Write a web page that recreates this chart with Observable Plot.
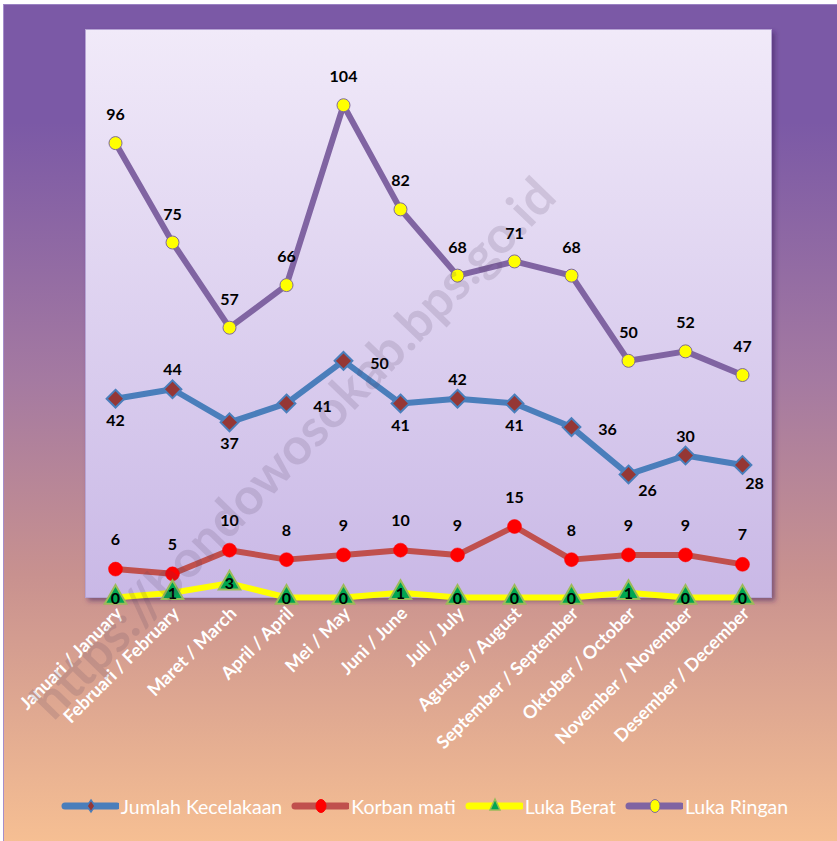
<!DOCTYPE html>
<html>
<head>
<meta charset="utf-8">
<script src="https://cdn.jsdelivr.net/npm/d3@7"></script>
<script src="https://cdn.jsdelivr.net/npm/@observablehq/plot@0.6"></script>
<style>
  html, body { margin: 0; padding: 0; background: #ffffff; }
  #wrap {
    position: absolute; left: 3px; top: 4px; width: 834px; height: 837px;
    background: linear-gradient(to bottom, #7b59a6 0%, #7b59a6 14%, #a57aa1 45%, #c8918f 68%, #f6bf93 100%);
    border-left: 1px solid #a58fcb; border-top: 1px solid #9a82c2;
    overflow: hidden;
  }
  #chart { position: absolute; left: -4px; top: -5px; }
  #legend {
    position: absolute; left: 2px; top: 781px; width: 837px; height: 40px;
    display: flex; justify-content: center; align-items: center; gap: 9px;
    font-family: Lato, "Open Sans", sans-serif; font-size: 19.5px; color: #ffffff;
  }
  .item { display: flex; align-items: center; gap: 2px; }
  #watermark {
    position: absolute; left: 288px; top: 442px; transform: translate(-50%, -50%) rotate(-46deg);
    font-family: Lato, sans-serif; font-weight: bold; font-size: 51px; white-space: nowrap;
    color: rgba(80, 64, 96, 0.16); pointer-events: none;
  }
</style>
</head>
<body>
<div id="wrap">
  <div id="chart"></div>
  <div id="watermark">https://bondowosokab.bps.go.id</div>
  <div id="legend"></div>
</div>
<script>
const months = ["Januari / January", "Februari / February", "Maret / March", "April / April", "Mei / May", "Juni / June", "Juli / July", "Agustus / August", "September / September", "Oktober / October", "November / November", "Desember / December"];
const seriesNames = ["Jumlah Kecelakaan", "Korban mati", "Luka Berat", "Luka Ringan"];
const jumlahKecelakaan = [42, 44, 37, 41, 50, 41, 42, 41, 36, 26, 30, 28];
const korbanMati = [6, 5, 10, 8, 9, 10, 9, 15, 8, 9, 9, 7];
const lukaBerat = [0, 1, 3, 0, 0, 1, 0, 0, 0, 1, 0, 0];
const lukaRingan = [96, 75, 57, 66, 104, 82, 68, 71, 68, 50, 52, 47];

const rows = (vals) => months.map((m, i) => ({month: m, value: vals[i], i}));
const dJ = rows(jumlahKecelakaan), dK = rows(korbanMati), dB = rows(lukaBerat), dR = rows(lukaRingan);

// label placement for Jumlah Kecelakaan (style only)
const place = ["below", "above", "below", "right", "right", "below", "above", "below", "right", "belowRight", "above", "belowRight2"];
const placeOpts = {
  below: {dy: 22}, above: {dy: -19}, right: {dx: 36, dy: 3},
  belowRight: {dx: 19, dy: 16}, belowRight2: {dx: 12, dy: 19}
};

const C = {
  jumlah: "#4a7ebb", korban: "#c0504d", berat: "#ffff00", ringan: "#8064a2"
};
const labelFont = {fontFamily: "Lato, sans-serif", fontWeight: "bold", fontSize: 16, fill: "#000"};

const defs = () => {
  const svgNS = "http://www.w3.org/2000/svg";
  const d = document.createElementNS(svgNS, "defs");
  d.innerHTML = `
    <linearGradient id="plotGrad" x1="0" y1="0" x2="0" y2="1">
      <stop offset="0%" stop-color="#f1eaf9"/>
      <stop offset="100%" stop-color="#c9b8e6"/>
    </linearGradient>
    <filter id="shadow" x="-5%" y="-5%" width="110%" height="110%">
      <feDropShadow dx="3" dy="3" stdDeviation="2.5" flood-color="#3c2060" flood-opacity="0.55"/>
    </filter>`;
  return d;
};

const marks = [
  defs,
  Plot.frame({fill: "url(#plotGrad)", stroke: "#b6a4d4", strokeWidth: 1}),
  Plot.axisX({tickRotate: -45, tickSize: 0, tickPadding: 13, dx: 4, fill: "#ffffff",
    fontFamily: "Lato, sans-serif", fontWeight: "bold", fontSize: 18, stroke: null}),
  // lines
  Plot.line(dR, {x: "month", y: "value", stroke: C.ringan, strokeWidth: 6, strokeLinejoin: "round"}),
  Plot.line(dJ, {x: "month", y: "value", stroke: C.jumlah, strokeWidth: 6, strokeLinejoin: "round"}),
  Plot.line(dK, {x: "month", y: "value", stroke: C.korban, strokeWidth: 6, strokeLinejoin: "round"}),
  Plot.line(dB, {x: "month", y: "value", stroke: C.berat, strokeWidth: 6, strokeLinejoin: "round"}),
  // markers
  Plot.dot(dR, {x: "month", y: "value", r: 6.5, fill: "#ffff00", stroke: "#7f6a9a", strokeWidth: 1}),
  Plot.dot(dJ, {x: "month", y: "value", symbol: "diamond2", r: 8, fill: "#953735", stroke: C.jumlah, strokeWidth: 2}),
  Plot.dot(dK, {x: "month", y: "value", r: 7, fill: "#ff0000", stroke: "#ff0000", strokeWidth: 0.5}),
  Plot.dot(dB, {x: "month", y: "value", symbol: "triangle", r: 8, fill: "#00a651", stroke: "#9bbb59", strokeWidth: 2}),
  // labels
  Plot.text(dR, {x: "month", y: "value", text: "value", dy: -28, ...labelFont}),
  Plot.text(dK, {x: "month", y: "value", text: "value", dy: -29, ...labelFont}),
  Plot.text(dB, {x: "month", y: "value", text: "value", dy: 1, ...labelFont}),
  ...Object.keys(placeOpts).map(k => Plot.text(dJ.filter(d => place[d.i] === k),
    {x: "month", y: "value", text: "value", ...placeOpts[k], ...labelFont}))
];

const chart = Plot.plot({
  width: 837,
  height: 780,
  marginTop: 29,
  marginBottom: 183,
  marginLeft: 85,
  marginRight: 66,
  style: {background: "transparent", overflow: "visible"},
  x: {type: "point", domain: months, padding: 0.5, label: null},
  y: {domain: [0, 120], axis: null},
  marks
});
const fr = chart.querySelector('[aria-label="frame"]');
if (fr) fr.setAttribute("filter", "url(#shadow)");
document.getElementById("chart").appendChild(chart);

// legend
const legendSpec = [
  {name: seriesNames[0], line: C.jumlah, marker: "diamond", fill: "#953735", stroke: C.jumlah},
  {name: seriesNames[1], line: C.korban, marker: "circle", fill: "#ff0000", stroke: "#ff0000"},
  {name: seriesNames[2], line: C.berat, marker: "triangle", fill: "#00a651", stroke: "#9bbb59"},
  {name: seriesNames[3], line: C.ringan, marker: "circle", fill: "#ffff00", stroke: "#7f6a9a"}
];
const leg = document.getElementById("legend");
for (const s of legendSpec) {
  const it = document.createElement("div");
  it.className = "item";
  let m;
  if (s.marker === "diamond") m = `<path d="M30,14 L34,20 L30,26 L26,20 Z" fill="${s.fill}" stroke="${s.stroke}" stroke-width="1.5"/>`;
  else if (s.marker === "triangle") m = `<path d="M30,13 L35,24 L25,24 Z" fill="${s.fill}" stroke="${s.stroke}" stroke-width="1.5"/>`;
  else m = `<ellipse cx="30" cy="20" rx="5" ry="6.5" fill="${s.fill}" stroke="${s.stroke}" stroke-width="1"/>`;
  it.innerHTML = `<svg width="58" height="40"><line x1="4" y1="20" x2="56" y2="20" stroke="${s.line}" stroke-width="7" stroke-linecap="round"/>${m}</svg><span>${s.name}</span>`;
  leg.appendChild(it);
}
</script>
</body>
</html>
